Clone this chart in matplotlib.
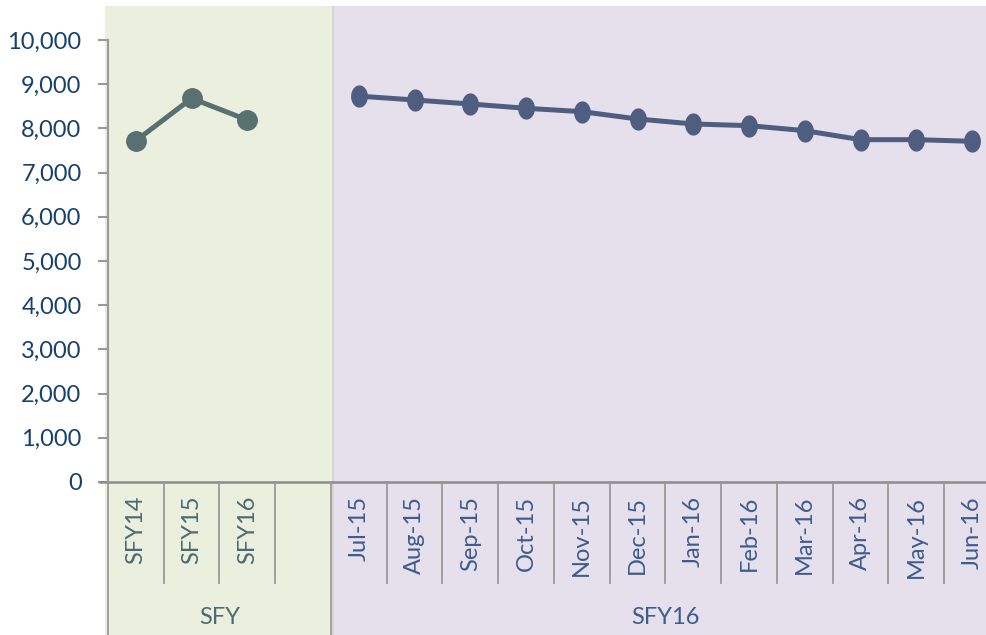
import matplotlib.pyplot as plt
import matplotlib.transforms as mtransforms
import numpy as np
from matplotlib.path import Path
from matplotlib.ticker import FuncFormatter

plt.rcParams["font.family"] = ["Lato", "DejaVu Sans"]

# Data
sfy_labels = ["SFY14", "SFY15", "SFY16", ""]
sfy_values = [7720, 8680, 8190]
month_labels = [
    "Jul-15", "Aug-15", "Sep-15", "Oct-15", "Nov-15", "Dec-15",
    "Jan-16", "Feb-16", "Mar-16", "Apr-16", "May-16", "Jun-16",
]
month_values = [8730, 8643, 8552, 8455, 8379, 8213, 8100, 8062, 7949, 7745, 7745, 7708]
group_labels = ["SFY", "SFY16"]
y_ticks = list(range(0, 10001, 1000))

GREEN_BG = "#EBEFDE"
PURPLE_BG = "#E6E0EC"
GREEN_LINE = "#587071"
PURPLE_LINE = "#4F5E80"
NAVY = "#17406D"
MONTH_TXT = "#3E5B8E"
SFY_TXT = "#4B6B70"
AXIS_GRAY = "#9A9A9A"
FS = 17

W, H = 987, 635
fig = plt.figure(figsize=(W / 100, H / 100), dpi=100)

# axes geometry in pixels
left_px, zero_px, top_px = 108, 482, 40
cat_w = 55.75
x_right = -0.5 + (W - left_px) / cat_w

# background bands (full height below the top strip)
bg = fig.add_axes([0, 0, 1, (H - 6) / H])
bg_left = -0.5 - left_px / cat_w
bg.set_xlim(bg_left, bg_left + W / cat_w)
bg.set_ylim(0, 1)
bg.axvspan(-0.55, 3.53, color=GREEN_BG, lw=0)
bg.axvspan(3.53, x_right + 1, color=PURPLE_BG, lw=0)
bg.axvline(3.53, color="#D2D2D2", lw=1.2)
bg.axis("off")

ax = fig.add_axes([left_px / W, (H - zero_px) / H, (W - left_px) / W, (zero_px - top_px) / H])
ax.patch.set_alpha(0)
ax.set_xlim(-0.5, x_right)
ax.set_ylim(0, 10000)

# series
ax.plot(range(len(sfy_values)), sfy_values, color=GREEN_LINE, lw=3.6,
        marker="o", markersize=14, solid_capstyle="round", zorder=3)

t = np.linspace(0, 2 * np.pi, 60)
ellipse = Path(np.column_stack([0.74 * np.cos(t), np.sin(t)]), closed=True)
month_x = [4 + i for i in range(len(month_values))]
ax.plot(month_x, month_values, color=PURPLE_LINE, lw=3.6,
        marker=ellipse, markersize=15, solid_capstyle="round", zorder=3)

# y axis
for s in ["top", "right", "bottom"]:
    ax.spines[s].set_visible(False)
ax.spines["left"].set_color(AXIS_GRAY)
ax.spines["left"].set_linewidth(1.5)
ax.set_yticks(y_ticks)
ax.yaxis.set_major_formatter(FuncFormatter(lambda v, p: f"{int(v):,}"))
ax.tick_params(axis="y", direction="out", length=7, width=1.5, color=AXIS_GRAY,
               labelsize=FS, labelcolor=NAVY, pad=12)
ax.set_xticks([])

# category axis drawn below the plot
tr = mtransforms.blended_transform_factory(ax.transData, ax.transAxes)
ax_h = zero_px - top_px
sep_bottom = (zero_px - 583) / ax_h
grp_bottom = (zero_px - H - 2) / ax_h

ax.plot([-0.5 - 8 / cat_w, x_right], [0, 0], transform=tr, color="#8C8C8C",
        lw=1.8, clip_on=False, zorder=2)

n_cats = len(sfy_labels) + len(month_labels)
for i in range(n_cats + 1):
    xb = i - 0.5
    bottom = grp_bottom if i in (0, len(sfy_labels)) else sep_bottom
    ax.plot([xb, xb], [0, bottom], transform=tr, color=AXIS_GRAY, lw=1.3,
            clip_on=False)

label_y = (zero_px - 496) / ax_h
for i, lab in enumerate(sfy_labels):
    ax.text(i, label_y, lab, transform=tr, rotation=90, ha="center", va="top",
            fontsize=FS, color=SFY_TXT)
for i, lab in enumerate(month_labels):
    ax.text(len(sfy_labels) + i, label_y, lab, transform=tr, rotation=90,
            ha="center", va="top", fontsize=FS, color=MONTH_TXT)

grp_y = (zero_px - 618) / ax_h
ax.text((len(sfy_labels) - 1) / 2, grp_y, group_labels[0], transform=tr,
        ha="center", va="center", fontsize=FS, color=SFY_TXT)
ax.text(len(sfy_labels) + (len(month_labels) - 1) / 2, grp_y, group_labels[1],
        transform=tr, ha="center", va="center", fontsize=FS, color=MONTH_TXT)

fig.savefig("out.png", dpi=100)
